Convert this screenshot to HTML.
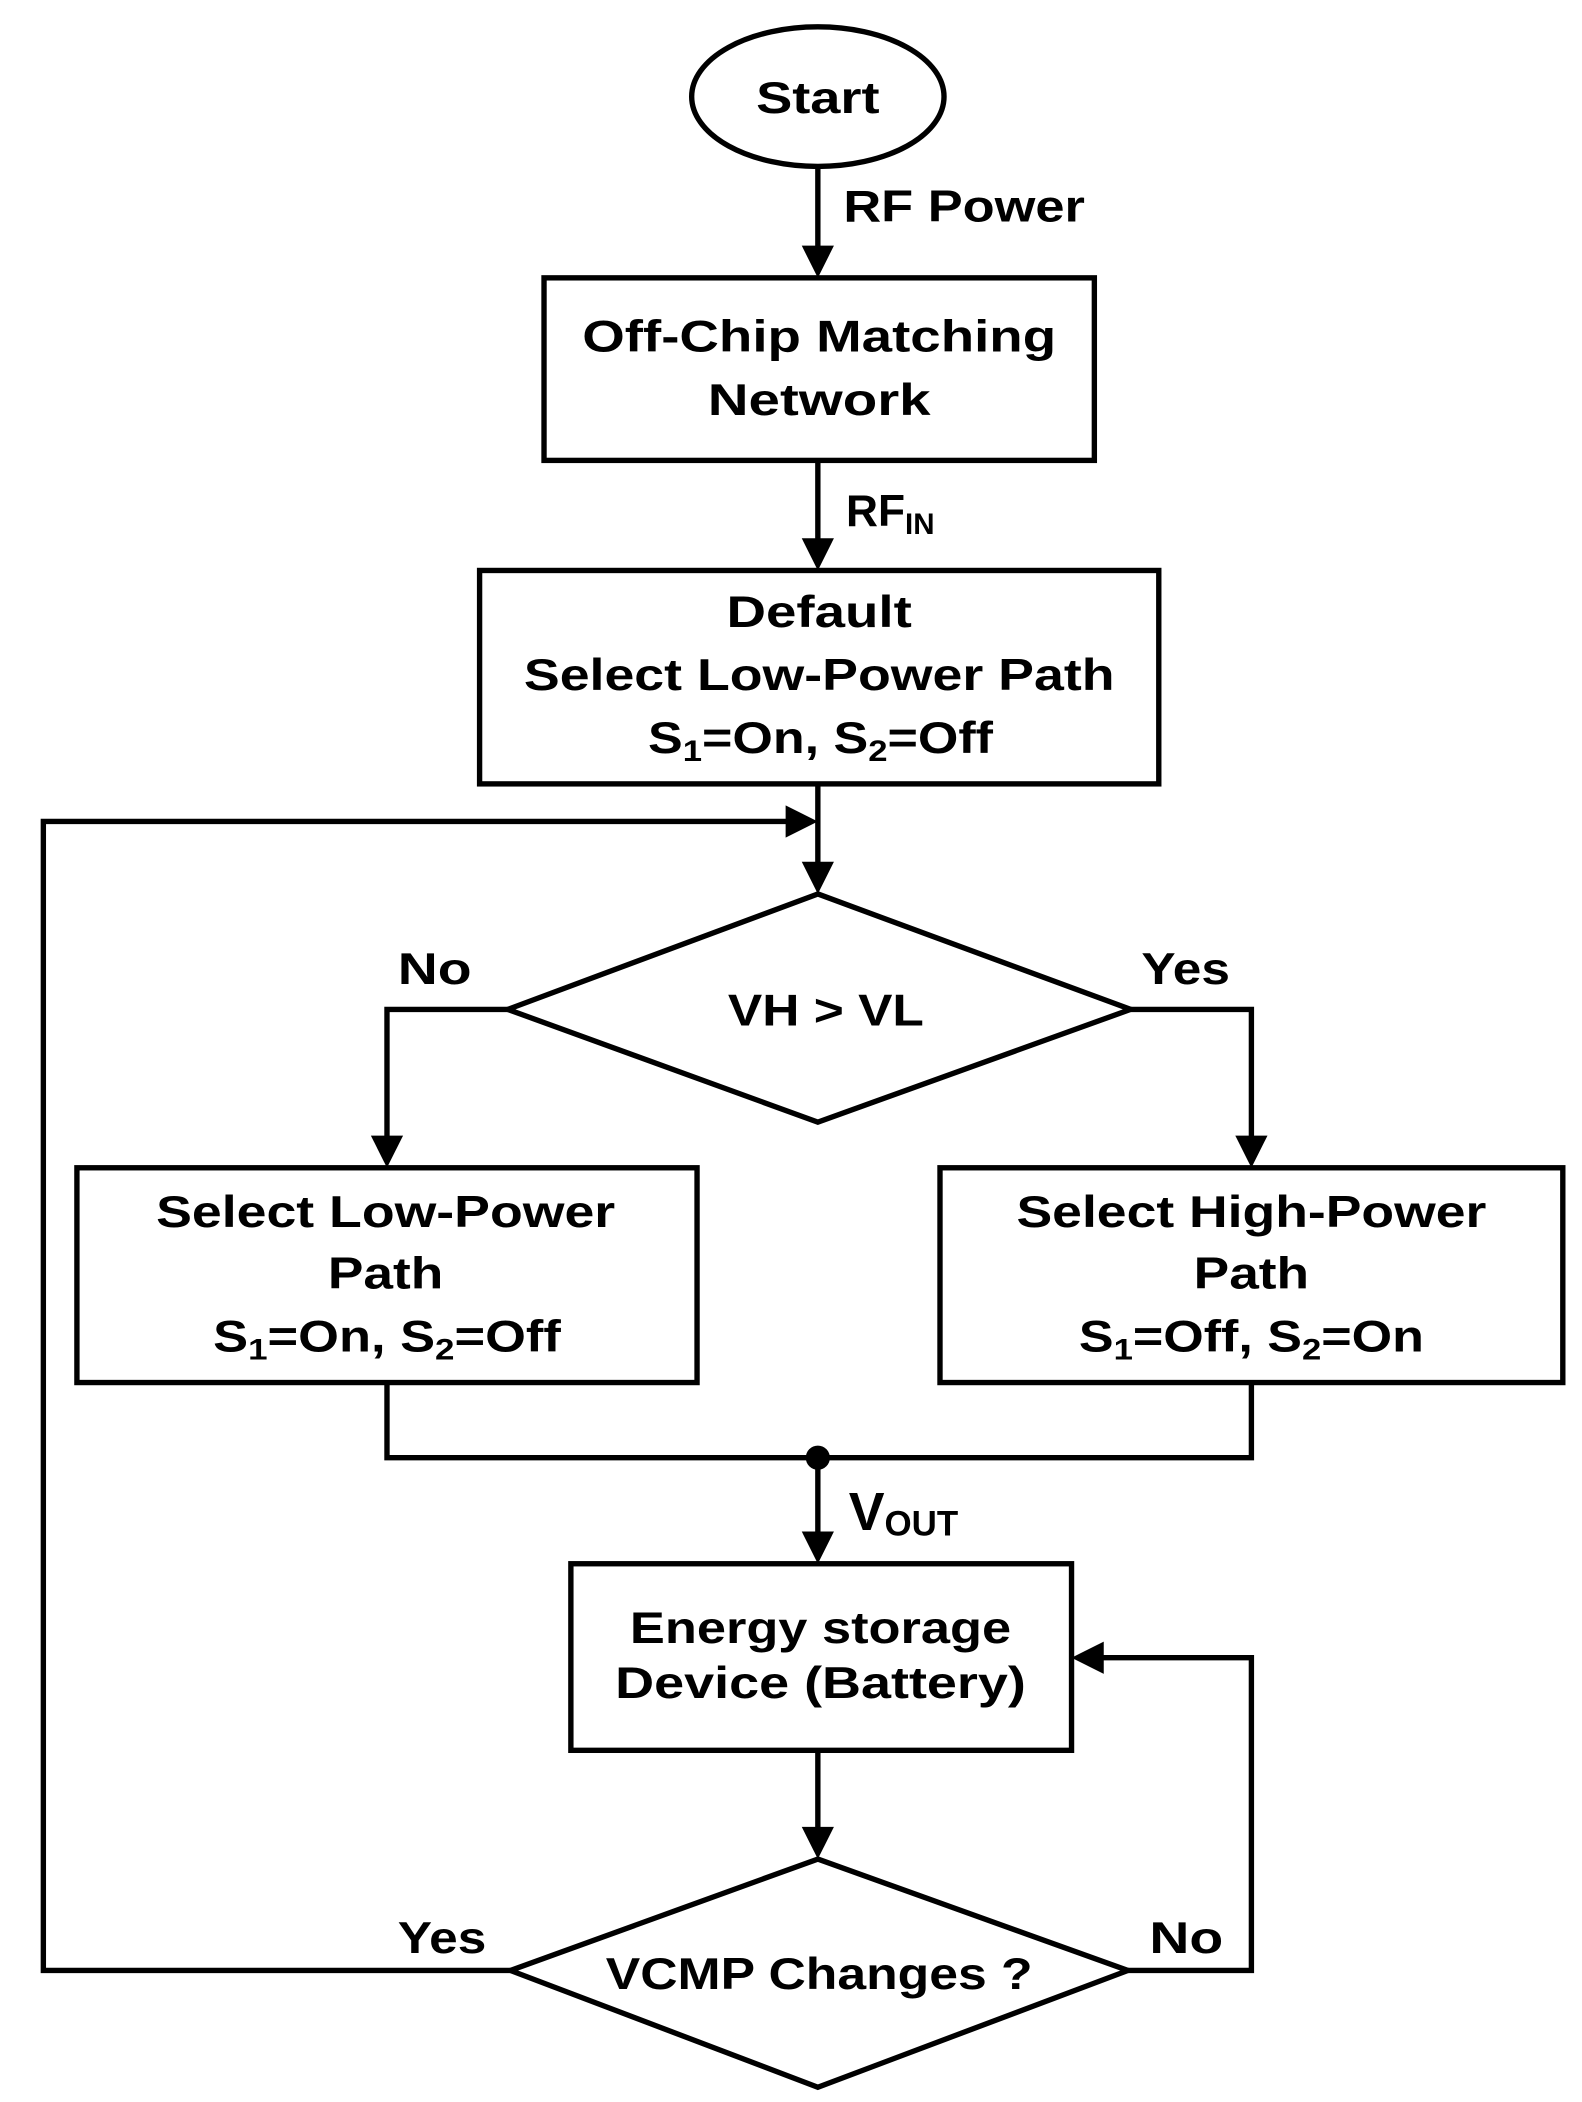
<!DOCTYPE html>
<html><head><meta charset="utf-8"><style>
html,body{margin:0;padding:0;background:#fff}
svg{display:block}
text{font-family:"Liberation Sans",sans-serif;font-weight:bold;fill:#000}
</style></head><body>
<svg width="1582" height="2102" viewBox="0 0 1178 1566" xmlns="http://www.w3.org/2000/svg">
<g fill="none" stroke="#000" stroke-width="4">
<ellipse cx="609" cy="72" rx="94" ry="52" fill="#fff"/>
<rect x="405" y="207" width="410" height="136" fill="#fff"/>
<rect x="357" y="425" width="506" height="159" fill="#fff"/>
<polygon points="609,666 842,752 609,836 378,752" fill="#fff"/>
<rect x="57" y="870" width="462" height="160" fill="#fff"/>
<rect x="700" y="870" width="464" height="160" fill="#fff"/>
<rect x="425" y="1165" width="373" height="139" fill="#fff"/>
<polygon points="609,1385 840,1468 609,1555 380,1468" fill="#fff"/>
<line x1="609" y1="124" x2="609" y2="185"/>
<line x1="609" y1="343" x2="609" y2="404"/>
<line x1="609" y1="584" x2="609" y2="645"/>
<polyline points="380,1468 32,1468 32,612 588,612"/>
<polyline points="378,752 288,752 288,850"/>
<polyline points="842,752 932,752 932,850"/>
<polyline points="288,1030 288,1086 932,1086 932,1030"/>
<line x1="609" y1="1086" x2="609" y2="1145"/>
<line x1="609" y1="1304" x2="609" y2="1365"/>
<polyline points="840,1468 932,1468 932,1235 818,1235"/>
</g>
<g fill="#000">
<path d="M597,183 L621,183 L609,207 z"/>
<path d="M597,401 L621,401 L609,425 z"/>
<path d="M597,642 L621,642 L609,666 z"/>
<path d="M585,600 L609,612 L585,624 z"/>
<path d="M276,846 L300,846 L288,870 z"/>
<path d="M920,846 L944,846 L932,870 z"/>
<path d="M597,1141 L621,1141 L609,1165 z"/>
<path d="M597,1361 L621,1361 L609,1385 z"/>
<path d="M822,1223 L822,1247 L798,1235 z"/>
<circle cx="609" cy="1086" r="9"/>
</g>
<g font-size="33" text-anchor="middle">
<text x="609" y="84" textLength="92" lengthAdjust="spacingAndGlyphs">Start</text>
<text x="610" y="262" textLength="353" lengthAdjust="spacingAndGlyphs">Off-Chip Matching</text>
<text x="610" y="309" textLength="166" lengthAdjust="spacingAndGlyphs">Network</text>
<text x="610" y="467" textLength="138" lengthAdjust="spacingAndGlyphs">Default</text>
<text x="610" y="514" textLength="440" lengthAdjust="spacingAndGlyphs">Select Low-Power Path</text>
<text x="611" y="561" textLength="257" lengthAdjust="spacingAndGlyphs">S<tspan font-size="22" dy="6">1</tspan><tspan dy="-6">=On, S</tspan><tspan font-size="22" dy="6">2</tspan><tspan dy="-6">=Off</tspan></text>
<text x="615" y="764" textLength="146" lengthAdjust="spacingAndGlyphs">VH &gt; VL</text>
<text x="287" y="914" textLength="342" lengthAdjust="spacingAndGlyphs">Select Low-Power</text>
<text x="287" y="960" textLength="86" lengthAdjust="spacingAndGlyphs">Path</text>
<text x="288" y="1007" textLength="259" lengthAdjust="spacingAndGlyphs">S<tspan font-size="22" dy="6">1</tspan><tspan dy="-6">=On, S</tspan><tspan font-size="22" dy="6">2</tspan><tspan dy="-6">=Off</tspan></text>
<text x="932" y="914" textLength="350" lengthAdjust="spacingAndGlyphs">Select High-Power</text>
<text x="932" y="960" textLength="86" lengthAdjust="spacingAndGlyphs">Path</text>
<text x="932" y="1007" textLength="257" lengthAdjust="spacingAndGlyphs">S<tspan font-size="22" dy="6">1</tspan><tspan dy="-6">=Off, S</tspan><tspan font-size="22" dy="6">2</tspan><tspan dy="-6">=On</tspan></text>
<text x="611" y="1224" textLength="284" lengthAdjust="spacingAndGlyphs">Energy storage</text>
<text x="611" y="1265" textLength="306" lengthAdjust="spacingAndGlyphs">Device (Battery)</text>
<text x="610" y="1482" textLength="318" lengthAdjust="spacingAndGlyphs">VCMP Changes ?</text>
</g>
<g font-size="33">
<text x="628" y="165" textLength="180" lengthAdjust="spacingAndGlyphs">RF Power</text>
<text x="630" y="392">RF<tspan font-size="22" dy="6">IN</tspan></text>
<text x="632" y="1140" font-size="40">V<tspan font-size="26" dy="4">OUT</tspan></text>
<text x="296" y="733" textLength="55" lengthAdjust="spacingAndGlyphs">No</text>
<text x="850" y="733" textLength="66" lengthAdjust="spacingAndGlyphs">Yes</text>
<text x="296" y="1455" textLength="66" lengthAdjust="spacingAndGlyphs">Yes</text>
<text x="856" y="1455" textLength="55" lengthAdjust="spacingAndGlyphs">No</text>
</g>
</svg>
</body></html>
